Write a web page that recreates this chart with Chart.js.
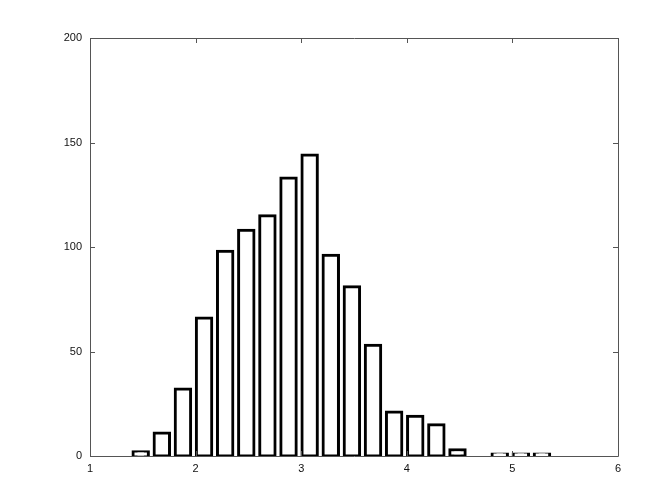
<!DOCTYPE html>
<html>
<head>
<meta charset="utf-8">
<script src="https://cdn.jsdelivr.net/npm/chart.js@4/dist/chart.umd.min.js"></script>
<style>
html,body{margin:0;padding:0;background:#fff;}
#wrap{width:664px;height:498px;position:relative;}
</style>
</head>
<body>
<div id="wrap"><canvas id="c" width="664" height="498"></canvas></div>
<script>
const binCenters = [1.48, 1.68, 1.88, 2.08, 2.28, 2.48, 2.68, 2.88, 3.08, 3.28, 3.48, 3.68, 3.88, 4.08, 4.28, 4.48, 4.68, 4.88, 5.08, 5.28];
const counts     = [2, 11, 32, 66, 98, 108, 115, 133, 144, 96, 81, 53, 21, 19, 15, 3, 0, 1, 1, 1];
const xTicks = [1, 2, 3, 4, 5, 6];
const yTicks = [0, 50, 100, 150, 200];

const points = binCenters.map((x, i) => ({x: x, y: counts[i] === 0 ? null : counts[i]}));

const boxPlugin = {
  id: 'box',
  afterDraw(chart) {
    const {ctx, chartArea: a, scales} = chart;
    ctx.save();
    ctx.strokeStyle = '#555';
    ctx.lineWidth = 1;
    ctx.beginPath();
    ctx.rect(Math.round(a.left) + 0.5, Math.round(a.top) + 0.5, Math.round(a.right - a.left), Math.round(a.bottom - a.top));
    ctx.stroke();
    const L = 5;
    ctx.beginPath();
    xTicks.forEach(v => {
      const px = Math.round(scales.x.getPixelForValue(v)) + 0.5;
      ctx.moveTo(px, a.bottom); ctx.lineTo(px, a.bottom - L);
      ctx.moveTo(px, a.top); ctx.lineTo(px, a.top + L);
    });
    yTicks.forEach(v => {
      const py = Math.round(scales.y.getPixelForValue(v)) + 0.5;
      ctx.moveTo(a.left, py); ctx.lineTo(a.left + L, py);
      ctx.moveTo(a.right, py); ctx.lineTo(a.right - L, py);
    });
    ctx.stroke();
    ctx.restore();
  }
};

new Chart(document.getElementById('c'), {
  type: 'bar',
  data: {
    datasets: [{
      data: points,
      backgroundColor: '#ffffff',
      borderColor: '#000000',
      borderWidth: 3,
      borderSkipped: false,
      inflateAmount: 1.5,
      barPercentage: 0.73,
      categoryPercentage: 1.0
    }]
  },
  options: {
    responsive: false,
    animation: false,
    devicePixelRatio: 1,
    layout: {padding: {top: 38, right: 46, left: 0, bottom: 0}},
    plugins: {legend: {display: false}, tooltip: {enabled: false}},
    scales: {
      x: {
        type: 'linear',
        offset: false,
        min: 1, max: 6,
        afterBuildTicks(s) { s.ticks = xTicks.map(v => ({value: v})); },
        afterFit(s) { s.height = 42; },
        grid: {display: false, drawTicks: false, offset: false},
        border: {display: false},
        ticks: {padding: 6, color: '#111', font: {family: 'Liberation Sans, Arial, sans-serif', size: 11}, maxRotation: 0}
      },
      y: {
        type: 'linear',
        min: 0, max: 200,
        afterBuildTicks(s) { s.ticks = yTicks.map(v => ({value: v})); },
        afterFit(s) { s.width = 90; },
        grid: {display: false, drawTicks: false},
        border: {display: false},
        ticks: {padding: 8, color: '#111', font: {family: 'Liberation Sans, Arial, sans-serif', size: 11}}
      }
    }
  },
  plugins: [boxPlugin]
});
</script>
</body>
</html>
